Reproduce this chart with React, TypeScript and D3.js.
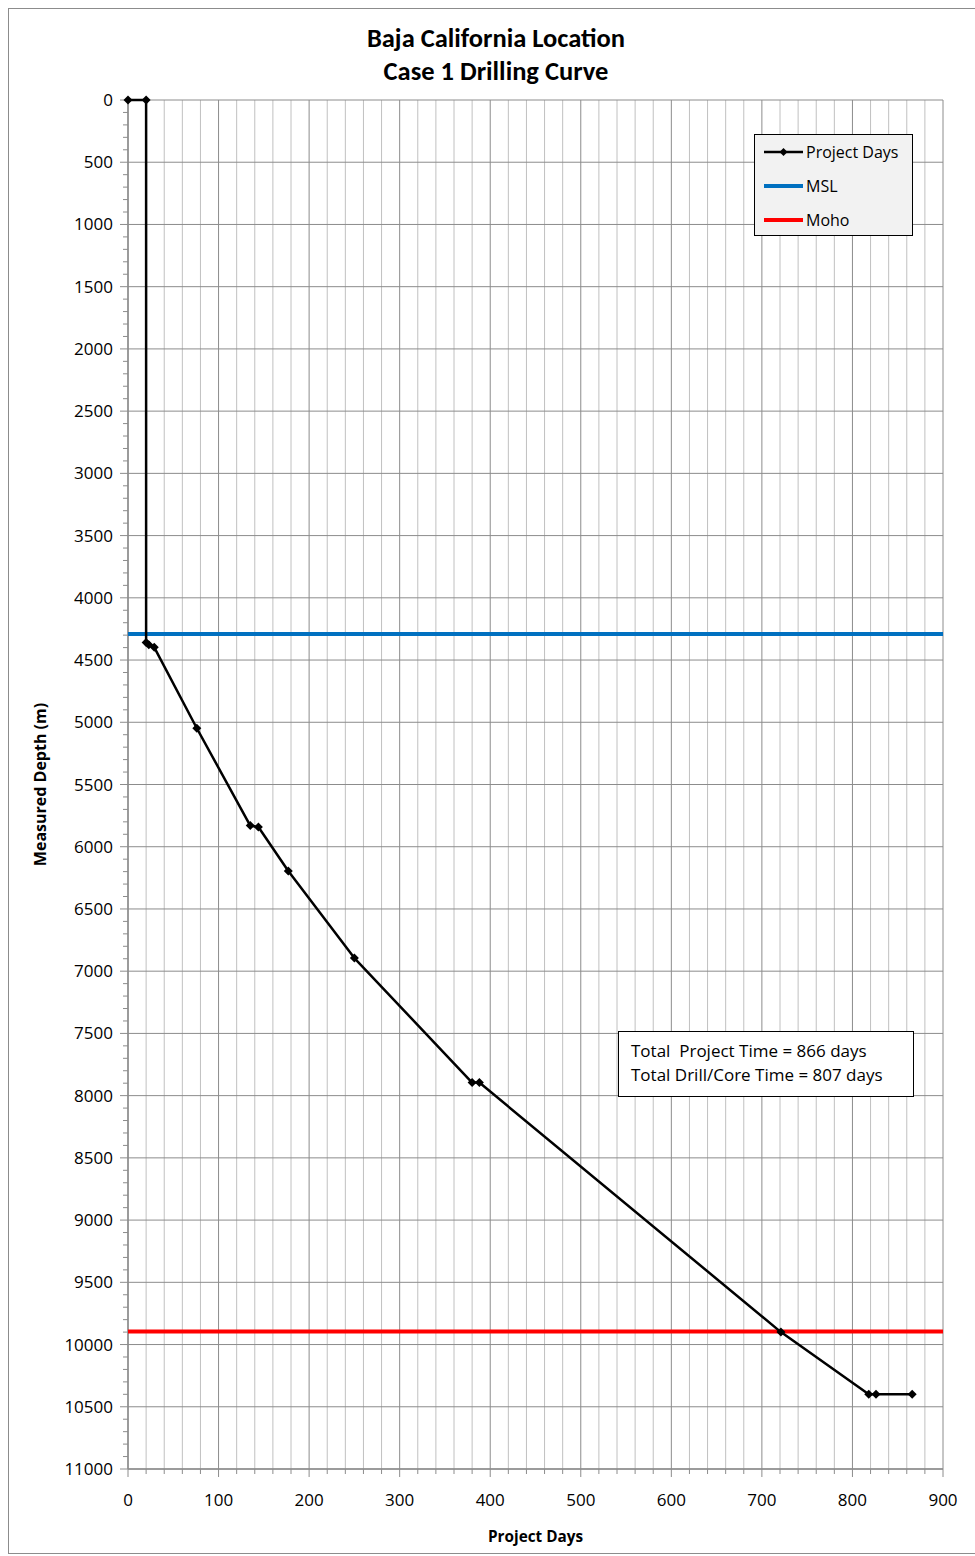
import React from "react";
import * as d3 from "d3";

const days = [0, 20, 20, 23, 29, 76, 135, 144, 177, 250, 380, 388, 721, 818, 826, 866];
const depths = [0, 0, 4360, 4378, 4398, 5048, 5830, 5842, 6195, 6895, 7895, 7895, 9900, 10400, 10400, 10400];
const mslDepth = 4290;
const mohoDepth = 9895;
const xTicks = [0, 100, 200, 300, 400, 500, 600, 700, 800, 900];
const yTicks = [0, 500, 1000, 1500, 2000, 2500, 3000, 3500, 4000, 4500, 5000, 5500, 6000, 6500, 7000, 7500, 8000, 8500, 9000, 9500, 10000, 10500, 11000];
const titleLines = ["Baja California Location", "Case 1 Drilling Curve"];
const legendItems = [
  { label: "Project Days", color: "#000000", marker: true },
  { label: "MSL", color: "#0070C0", marker: false },
  { label: "Moho", color: "#FF0000", marker: false },
];
const noteLines = ["Total  Project Time = 866 days", "Total Drill/Core Time = 807 days"];

const TITLE_FONT = "Carlito, Calibri, Lato, sans-serif";
const FONT = "'Open Sans', sans-serif";

export default function App() {
  const W = 975, H = 1556;
  const left = 128, right = 943, top = 100, bottom = 1469;
  const x = d3.scaleLinear().domain([0, 900]).range([left, right]);
  const y = d3.scaleLinear().domain([0, 11000]).range([top, bottom]);
  const minorX = d3.range(0, 901, 20);
  const minorY = d3.range(0, 11001, 100);
  const line = d3.line<number>().x((_, i) => x(days[i])).y((_, i) => y(depths[i]));
  const diamond = (cx: number, cy: number, r: number) =>
    `M${cx},${cy - r}L${cx + r},${cy}L${cx},${cy + r}L${cx - r},${cy}Z`;

  return (
    <svg width={W} height={H} style={{ position: "absolute", left: 0, top: 0 }} fontFamily={FONT}>
      <rect x={0} y={0} width={W} height={H} fill="#fff" />
      <rect x={8.5} y={8.5} width={975} height={1545} fill="none" stroke="#8c8c8c" strokeWidth={1} />
      {titleLines.map((t, i) => (
        <text key={t} x={496} y={47 + i * 33} textAnchor="middle" fontSize={26.5} fontWeight="bold" fill="#000" fontFamily={TITLE_FONT}>
          {t}
        </text>
      ))}
      {minorX.filter((v) => v % 100 !== 0).map((v) => (
        <line key={"mx" + v} x1={x(v)} x2={x(v)} y1={top} y2={bottom} stroke="#c0c0c0" strokeWidth={1} />
      ))}
      {xTicks.map((v) => (
        <line key={"Mx" + v} x1={x(v)} x2={x(v)} y1={top} y2={bottom} stroke="#8c8c8c" strokeWidth={1} />
      ))}
      {yTicks.map((v) => (
        <line key={"My" + v} x1={left} x2={right} y1={y(v)} y2={y(v)} stroke="#8c8c8c" strokeWidth={1} />
      ))}
      {minorY.map((v) => (
        <line key={"ty" + v} x1={v % 500 === 0 ? left - 8 : left - 5} x2={left} y1={y(v)} y2={y(v)} stroke="#8c8c8c" strokeWidth={1} />
      ))}
      {minorX.map((v) => (
        <line key={"tx" + v} x1={x(v)} x2={x(v)} y1={bottom} y2={v % 100 === 0 ? bottom + 8 : bottom + 5} stroke="#8c8c8c" strokeWidth={1} />
      ))}
      <line x1={left} x2={left} y1={top} y2={bottom} stroke="#8c8c8c" strokeWidth={1.5} />
      <line x1={left} x2={right} y1={bottom} y2={bottom} stroke="#8c8c8c" strokeWidth={1.5} />
      {yTicks.map((v) => (
        <text key={"ly" + v} x={113} y={y(v) + 6} textAnchor="end" fontSize={17} fill="#000">
          {v}
        </text>
      ))}
      {xTicks.map((v) => (
        <text key={"lx" + v} x={x(v)} y={1506} textAnchor="middle" fontSize={17} fill="#000">
          {v}
        </text>
      ))}
      <text x={(left + right) / 2} y={1542} textAnchor="middle" fontSize={15.3} fontWeight="bold">
        Project Days
      </text>
      <text transform={`translate(46,${(top + bottom) / 2}) rotate(-90)`} textAnchor="middle" fontSize={16} fontWeight="bold">
        Measured Depth (m)
      </text>
      <line x1={left} x2={right} y1={y(mslDepth)} y2={y(mslDepth)} stroke="#0070C0" strokeWidth={4} />
      <line x1={left} x2={right} y1={y(mohoDepth)} y2={y(mohoDepth)} stroke="#FF0000" strokeWidth={4} />
      <path d={line(days) || ""} fill="none" stroke="#000" strokeWidth={2.5} strokeLinejoin="round" />
      {days.map((d, i) => (
        <path key={"pt" + i} d={diamond(x(d), y(depths[i]), 4.5)} fill="#000" />
      ))}
      <rect x={754.5} y={134.5} width={158} height={101} fill="#f2f2f2" stroke="#000" strokeWidth={1} />
      {legendItems.map((it, i) => {
        const ly = 152 + i * 34;
        return (
          <g key={it.label}>
            <line x1={764} x2={803} y1={ly} y2={ly} stroke={it.color} strokeWidth={it.marker ? 2.5 : 4} />
            {it.marker && <path d={diamond(783.5, ly, 4)} fill="#000" />}
            <text x={806} y={ly + 6} fontSize={16} fill="#000">
              {it.label}
            </text>
          </g>
        );
      })}
      <rect x={618.5} y={1031.5} width={295} height={65} fill="#fff" stroke="#000" strokeWidth={1} />
      {noteLines.map((t, i) => (
        <text key={t} x={631} y={1057 + i * 24} fontSize={17} fill="#000" style={{ whiteSpace: "pre" }}>
          {t}
        </text>
      ))}
    </svg>
  );
}
